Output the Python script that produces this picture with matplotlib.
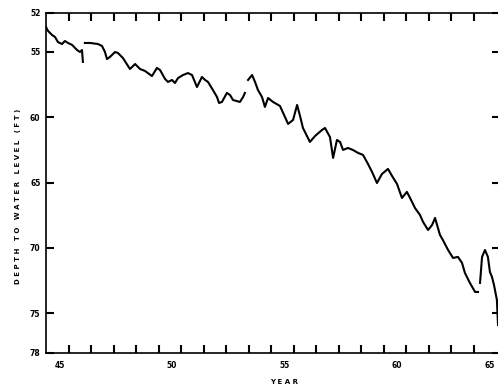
import matplotlib.pyplot as plt
import numpy as np

# hydrograph, gaps in the record are nan
years = [1945.00, 1945.09, 1945.27, 1945.40, 1945.53, 1945.71, 1945.84, 1945.98,
         1946.16, 1946.38, 1946.51, 1946.60, 1946.64, np.nan,
         1946.73, 1946.96, 1947.31, 1947.49, 1947.62, 1947.71, 1947.84, 1948.07,
         1948.20, 1948.42, 1948.73, 1948.96, 1949.18, 1949.40, 1949.71, 1949.93,
         1950.07, 1950.29, 1950.42, 1950.60, 1950.73, 1950.87, 1951.09, 1951.31,
         1951.49, 1951.71, 1951.93, 1952.07, 1952.20, 1952.42, 1952.60, 1952.69,
         1952.82, 1953.04, 1953.18, 1953.31, 1953.62, 1953.76, 1953.84, np.nan,
         1953.98, 1954.16, 1954.29, 1954.42, 1954.60, 1954.73, 1954.87, 1955.09,
         1955.40, 1955.76, 1955.98, 1956.16, 1956.29, 1956.42, 1956.73, 1956.96,
         1957.27, 1957.40, 1957.62, 1957.76, 1957.93, 1958.07, 1958.20, 1958.42,
         1958.64, 1958.87, 1959.09, 1959.31, 1959.49, 1959.71, 1959.93, 1960.20,
         1960.38, 1960.60, 1960.82, 1961.04, 1961.18, 1961.40, 1961.62, 1961.76,
         1961.98, 1962.16, 1962.29, 1962.51, 1962.64, 1962.87, 1963.09, 1963.31,
         1963.49, 1963.62, 1963.84, 1964.07, 1964.20, np.nan,
         1964.29, 1964.38, 1964.51, 1964.64, 1964.73, 1964.82, 1964.91, 1965.04,
         1965.09]
depth = [53.11, 53.41, 53.72, 53.87, 54.26, 54.41, 54.18, 54.33,
         54.48, 54.87, 55.02, 54.87, 55.78, np.nan,
         54.33, 54.33, 54.41, 54.56, 55.02, 55.56, 55.40, 55.02,
         55.10, 55.48, 56.32, 55.94, 56.32, 56.47, 56.86, 56.24,
         56.40, 57.08, 57.31, 57.16, 57.39, 57.01, 56.78, 56.63,
         56.78, 57.70, 56.93, 57.16, 57.31, 57.93, 58.46, 58.92,
         58.84, 58.15, 58.31, 58.69, 58.84, 58.46, 58.15, np.nan,
         57.16, 56.78, 57.31, 57.93, 58.46, 59.22, 58.54, 58.84,
         59.15, 60.52, 60.22, 59.07, 59.91, 60.83, 61.90, 61.44,
         60.98, 60.83, 61.52, 63.12, 61.75, 61.90, 62.51, 62.36,
         62.51, 62.74, 62.89, 63.58, 64.19, 65.04, 64.35, 63.96,
         64.50, 65.11, 66.18, 65.72, 66.18, 66.95, 67.48, 68.02,
         68.63, 68.25, 67.71, 69.01, 69.40, 70.16, 70.77, 70.69,
         71.15, 71.92, 72.68, 73.37, 73.37, np.nan,
         72.68, 70.69, 70.16, 70.69, 71.84, 72.22, 72.83, 73.98,
         75.89]

depth_ticks = [52, 55, 60, 65, 70, 75, 78]
year_label_pos = [1945.6, 1950.6, 1955.6, 1960.6, 1964.7]
year_labels = ['45', '50', '55', '60', '65']
year_ticks = list(range(1946, 1965))

plt.rcParams['font.weight'] = 'bold'

ink = 'black'

fig = plt.figure(figsize=(4.98, 3.91), dpi=100)
# frame runs a little past the right edge of the picture, like the cropped scan
ax_w, ax_h = 454, 340
ax = fig.add_axes([46 / 498, (391 - 352.5) / 391, ax_w / 498, ax_h / 391])

ax.plot(years, depth, color=ink, lw=1.5)

ax.set_xlim(1945, 1945 + ax_w / 22.5)
ax.set_ylim(78, 52)

for s in ax.spines.values():
    s.set_linewidth(1.2)

ax.set_yticks(depth_ticks)
ax.tick_params(axis='y', direction='in', length=6, width=1.5, color='black',
               right=True, labelsize=5.5, pad=4)

ax.set_xticks(year_label_pos, year_labels)
ax.tick_params(axis='x', which='major', length=0, labelsize=5.5, pad=6)
ax.set_xticks(year_ticks, minor=True)
ax.tick_params(axis='x', which='minor', direction='in', length=6, width=1.5,
               color='black', top=True)

fig.text(18 / 498, 1 - 196 / 391, 'D E P T H   T O   W A T E R   L E V E L   ( F T )',
         rotation=90, ha='center', va='center', fontsize=5, color=ink)
fig.text(284 / 498, 1 - 382 / 391, 'Y E A R', ha='center', va='center',
         fontsize=5, color=ink)

fig.savefig('out.png', dpi=100)
